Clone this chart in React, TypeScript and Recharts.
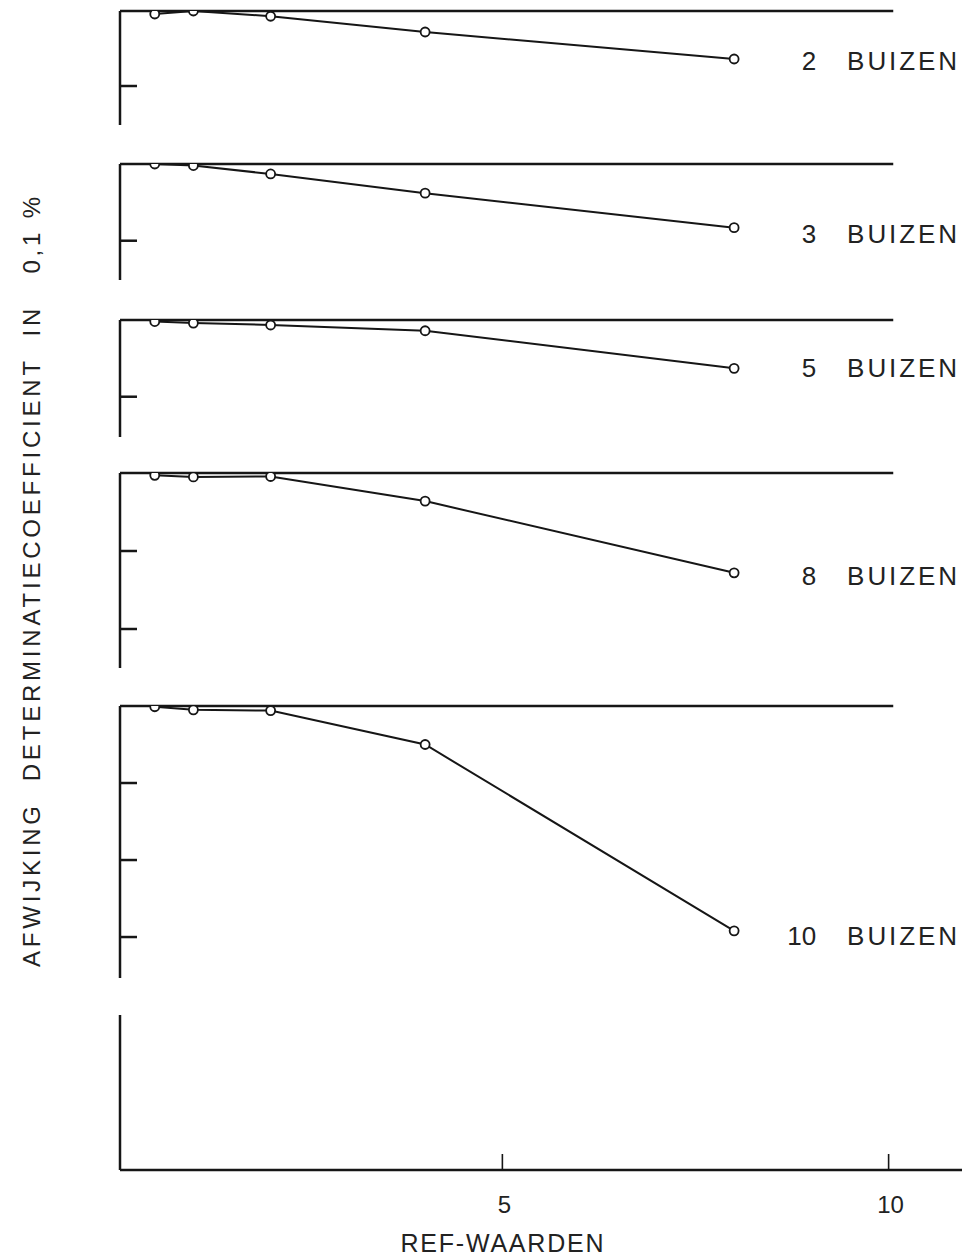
import React from 'react';
import { LineChart, Line, XAxis, YAxis, ReferenceLine, LabelList, Label } from 'recharts';

// ---- data ----
const refValues = [0.5, 1, 2, 4, 8];
const buizen2 = [-0.04, 0.0, -0.07, -0.28, -0.64];
const buizen3 = [0.0, -0.02, -0.13, -0.38, -0.83];
const buizen5 = [-0.02, -0.04, -0.065, -0.14, -0.63];
const buizen8 = [-0.03, -0.05, -0.045, -0.36, -1.28];
const buizen10 = [-0.01, -0.05, -0.06, -0.5, -2.92];
const seriesNames = ['2', '3', '5', '8', '10'];
const yTicksShort = [-1];
const yTicks8 = [-1, -2];
const yTicks10 = [-1, -2, -3];
const xTicks = [5, 10];
const yTitle = 'AFWIJKING  DETERMINATIECOEFFICIENT  IN   0,1 %';
const xTitle = 'REF-WAARDEN';
const unitWord = 'BUIZEN';

// ---- layout ----
const W = 975;
const FONT = '"Liberation Sans", Arial, sans-serif';
const INK = '#161616';
const X_DOMAIN: [number, number] = [0.05, 10.95];
const ZERO_LINE_END = 10.06;

const panels = [
  { values: buizen2, name: seriesNames[0], ticks: yTicksShort, zeroY: 11, bottomY: 125, min: -1.52, labelDy: 11 },
  { values: buizen3, name: seriesNames[1], ticks: yTicksShort, zeroY: 164, bottomY: 280, min: -1.512, labelDy: 15 },
  { values: buizen5, name: seriesNames[2], ticks: yTicksShort, zeroY: 320, bottomY: 437, min: -1.525, labelDy: 9 },
  { values: buizen8, name: seriesNames[3], ticks: yTicks8, zeroY: 473, bottomY: 668, min: -2.5, labelDy: 12 },
  { values: buizen10, name: seriesNames[4], ticks: yTicks10, zeroY: 706, bottomY: 978, min: -3.532, labelDy: 14 },
];

const YTick = (props: any) => {
  const { x, y } = props;
  return <line x1={x} x2={x + 17} y1={y} y2={y} stroke={INK} strokeWidth={2.5} />;
};

const XTick = (props: any) => {
  const { x, y, payload } = props;
  return (
    <g>
      <line x1={x} x2={x} y1={y} y2={y - 16} stroke={INK} strokeWidth={1.6} />
      <text x={x + 2} y={y + 43} textAnchor="middle" fontSize={24} fontFamily={FONT} fill="#222">
        {payload.value}
      </text>
    </g>
  );
};

const makeSeriesLabel = (name: string, dy: number, last: number) => (props: any) => {
  const { x, y, index } = props;
  if (index !== last) return null;
  return (
    <g>
      <text x={x + 82} y={y + dy} textAnchor="end" fontSize={26} fontFamily={FONT} fill="#222">
        {name}
      </text>
      <text
        x={x + 113}
        y={y + dy}
        fontSize={26}
        fontFamily={FONT}
        fill="#222"
        textLength={110}
        lengthAdjust="spacing"
      >
        {unitWord}
      </text>
    </g>
  );
};

const Panel = ({ p }: { p: (typeof panels)[number] }) => {
  const rows = refValues.map((x, i) => ({ x, v: p.values[i] }));
  const h = p.bottomY - p.zeroY + 20;
  return (
    <div style={{ position: 'absolute', left: 0, top: p.zeroY - 10 }}>
      <LineChart width={W} height={h} data={rows} margin={{ top: 10, right: 13, bottom: 10, left: 0 }}>
        <XAxis type="number" dataKey="x" domain={X_DOMAIN} allowDataOverflow hide />
        <YAxis
          type="number"
          domain={[p.min, 0]}
          allowDataOverflow
          ticks={p.ticks}
          interval={0}
          width={120}
          axisLine={{ stroke: INK, strokeWidth: 2.5 }}
          tickLine={false}
          tickSize={0}
          tickMargin={0}
          tick={<YTick />}
        />
        <ReferenceLine
          segment={[
            { x: X_DOMAIN[0], y: 0 },
            { x: ZERO_LINE_END, y: 0 },
          ]}
          stroke={INK}
          strokeWidth={2.6}
        />
        <Line
          type="linear"
          dataKey="v"
          stroke={INK}
          strokeWidth={2}
          dot={{ r: 4.5, stroke: INK, strokeWidth: 1.8, fill: '#fff' }}
          isAnimationActive={false}
        >
          <LabelList dataKey="v" content={makeSeriesLabel(p.name, p.labelDy, refValues.length - 1)} />
        </Line>
      </LineChart>
    </div>
  );
};

const BottomPanel = () => {
  const rows = refValues.map((x) => ({ x, v: 0 }));
  return (
    <div style={{ position: 'absolute', left: 0, top: 1005 }}>
      <LineChart width={W} height={254} data={rows} margin={{ top: 10, right: 13, bottom: 0, left: 0 }}>
        <XAxis
          type="number"
          dataKey="x"
          domain={X_DOMAIN}
          allowDataOverflow
          ticks={xTicks}
          interval={0}
          height={89}
          axisLine={{ stroke: INK, strokeWidth: 2.6 }}
          tickLine={false}
          tickSize={0}
          tickMargin={0}
          tick={<XTick />}
        >
          <Label
            content={(lp: any) => {
              const vb = lp.viewBox || { x: 120, y: 1165 };
              return (
                <text
                  x={vb.x + 382}
                  y={vb.y + 82}
                  textAnchor="middle"
                  fontSize={25}
                  fontFamily={FONT}
                  fill="#222"
                  textLength={203}
                  lengthAdjust="spacing"
                >
                  {xTitle}
                </text>
              );
            }}
          />
        </XAxis>
        <YAxis
          type="number"
          domain={[0, 1]}
          allowDataOverflow
          width={120}
          axisLine={{ stroke: INK, strokeWidth: 2.5 }}
          tickLine={false}
          tick={false}
        />
      </LineChart>
    </div>
  );
};

export default function App() {
  return (
    <div style={{ position: 'absolute', left: 0, top: 0, width: W, height: 1259, background: '#fff' }}>
      <svg width={70} height={1259} style={{ position: 'absolute', left: 0, top: 0 }}>
        <text
          transform="translate(40,582) rotate(-90)"
          textAnchor="middle"
          fontSize={24}
          fontFamily={FONT}
          fill="#222"
          textLength={770}
          lengthAdjust="spacing"
          style={{ whiteSpace: 'pre' }}
        >
          {yTitle}
        </text>
      </svg>
      {panels.map((p) => (
        <Panel key={p.name} p={p} />
      ))}
      <BottomPanel />
    </div>
  );
}
